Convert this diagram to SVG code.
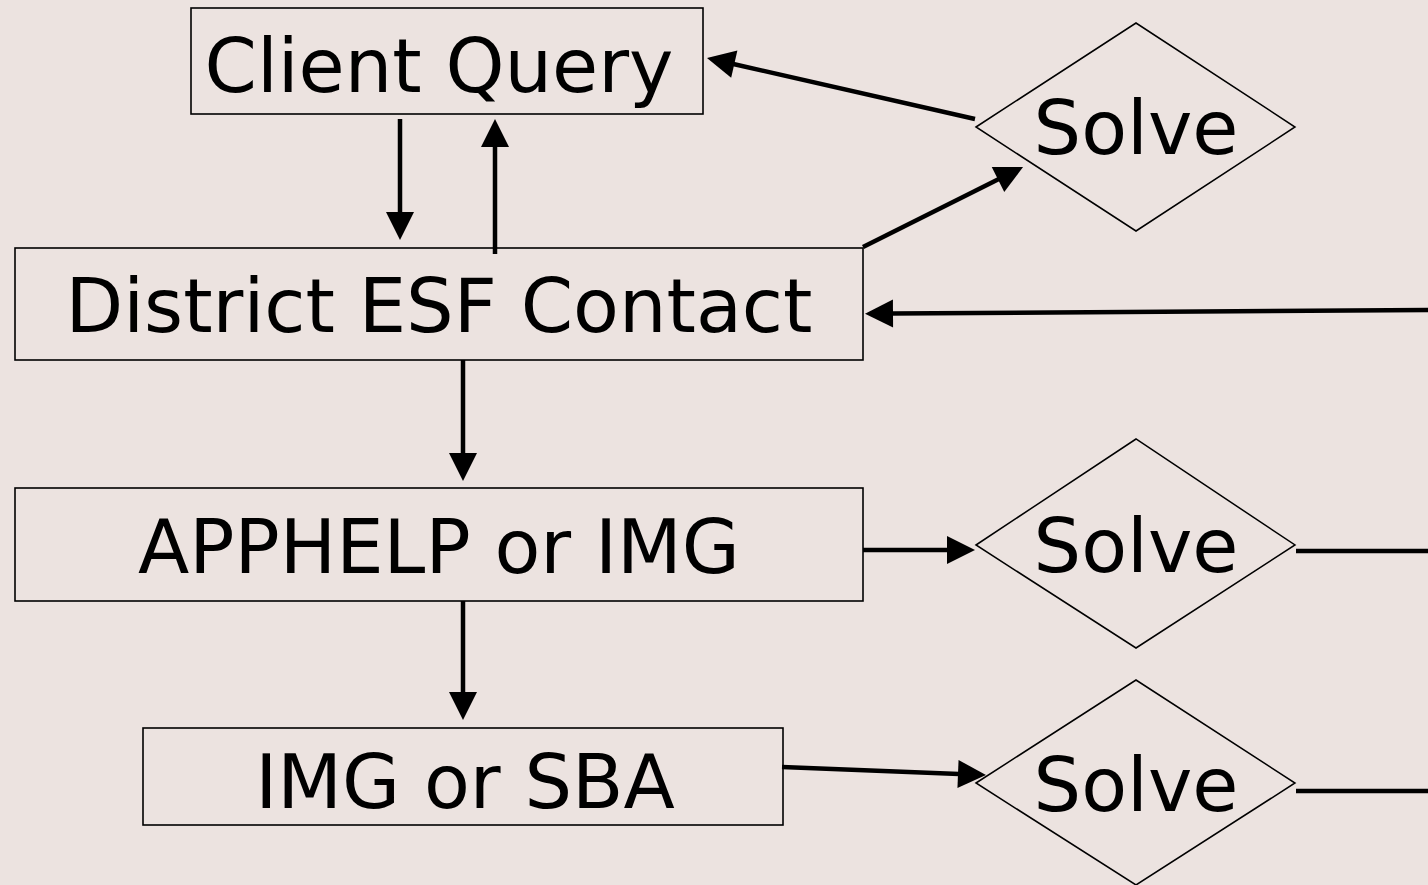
<svg xmlns="http://www.w3.org/2000/svg" width="1428" height="885" viewBox="0 0 1428 885">
<style>
.box{fill:none;stroke:#000;stroke-width:1.6}
.dia{fill:none;stroke:#000;stroke-width:1.5}
.lbl{font-family:"DejaVu Sans",Verdana,sans-serif;font-size:75px;fill:#000;text-anchor:middle}
.con{stroke:#000;stroke-width:4.5;fill:none}
.arr{marker-end:url(#ah)}
</style>
<defs>
<marker id="ah" markerUnits="userSpaceOnUse" markerWidth="30" markerHeight="30" refX="0" refY="14" orient="auto" overflow="visible">
<path d="M-1,0 L27,14 L-1,28 Z" fill="#000"/>
</marker>
</defs>
<rect width="1428" height="885" fill="#ECE3E0"/>
<g id="client-query">
<rect class="box" x="191" y="8" width="512" height="106"/>
<text class="lbl" x="439" y="92">Client Query</text>
</g>
<g id="district-esf-contact">
<rect class="box" x="15" y="248" width="848" height="112"/>
<text class="lbl" x="439" y="332">District ESF Contact</text>
</g>
<g id="apphelp-or-img">
<rect class="box" x="15" y="488" width="848" height="113"/>
<text class="lbl" x="439" y="573">APPHELP or IMG</text>
</g>
<g id="img-or-sba">
<rect class="box" x="143" y="728" width="640" height="97"/>
<text class="lbl" x="465" y="808">IMG or SBA</text>
</g>
<g id="solve-1">
<polygon class="dia" points="976,127 1136,23 1295,127 1136,231"/>
<text class="lbl" x="1136" y="154">Solve</text>
</g>
<g id="solve-2">
<polygon class="dia" points="976,545 1136,439 1295,545 1136,648"/>
<text class="lbl" x="1136" y="572">Solve</text>
</g>
<g id="solve-3">
<polygon class="dia" points="976,783 1136,680 1295,783 1136,885"/>
<text class="lbl" x="1136" y="811">Solve</text>
</g>
<g id="connectors">
<line class="con arr" x1="975" y1="119" x2="733.3" y2="64"/>
<line class="con arr" x1="863" y1="247" x2="998.9" y2="179.1"/>
<line class="con arr" x1="400" y1="119" x2="400" y2="213"/>
<line class="con arr" x1="495" y1="254" x2="495" y2="146"/>
<line class="con arr" x1="1428" y1="310" x2="892" y2="313.5"/>
<line class="con arr" x1="463" y1="360" x2="463" y2="454"/>
<line class="con arr" x1="863" y1="550" x2="948" y2="550"/>
<line class="con" x1="1296" y1="551" x2="1428" y2="551"/>
<line class="con arr" x1="463" y1="601" x2="463" y2="693"/>
<line class="con arr" x1="782" y1="767" x2="959" y2="774"/>
<line class="con" x1="1296" y1="791" x2="1428" y2="791"/>
</g>
</svg>
